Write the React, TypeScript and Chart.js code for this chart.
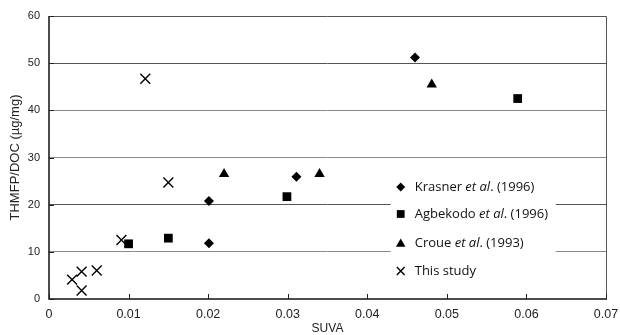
import React, { useEffect, useRef } from 'react';
import { Chart, registerables } from 'chart.js';
Chart.register(...registerables);

const krasnerX = [0.0201, 0.0201, 0.0311, 0.046];
const krasnerY = [20.8, 11.8, 25.9, 51.2];
const agbekodoX = [0.01, 0.015, 0.0299, 0.0589];
const agbekodoY = [11.7, 12.9, 21.7, 42.5];
const croueX = [0.022, 0.034, 0.0481];
const croueY = [26.5, 26.5, 45.5];
const studyX = [0.0029, 0.0041, 0.0041, 0.006, 0.0091, 0.0121, 0.015];
const studyY = [4.1, 5.8, 1.8, 6.05, 12.5, 46.7, 24.7];

const xTicks = [0, 0.01, 0.02, 0.03, 0.04, 0.05, 0.06, 0.07];
const yTicks = [0, 10, 20, 30, 40, 50, 60];

const legendNames = ['Krasner ', 'Agbekodo ', 'Croue ', 'This study'];
const legendItalic = ['et al', 'et al', 'et al', ''];
const legendYears = ['. (1996)', '. (1996)', '. (1993)', ''];
const pointStyles = ['rectRot', 'rect', 'triangle', 'crossRot'];
const pointRadii = [5, 6.2, 6, 7];

const toPts = (xs: number[], ys: number[]) => xs.map((x, i) => ({ x, y: ys[i] }));

const TICK_FONT = '"Liberation Sans", Arial, sans-serif';
const TEXT_FONT = '"Open Sans", "Noto Sans", sans-serif';

const framePlugin = {
  id: 'frame',
  afterDatasetsDraw(chart: any) {
    const { ctx, chartArea: a, scales } = chart;
    ctx.save();
    ctx.strokeStyle = '#555';
    ctx.lineWidth = 1;
    ctx.beginPath();
    ctx.moveTo(a.left, a.top + 0.5);
    ctx.lineTo(a.right + 0.5, a.top + 0.5);
    ctx.lineTo(a.right + 0.5, a.bottom);
    ctx.stroke();
    ctx.strokeStyle = '#111';
    ctx.lineWidth = 1.5;
    ctx.beginPath();
    ctx.moveTo(a.left, a.top);
    ctx.lineTo(a.left, a.bottom);
    ctx.lineTo(a.right + 1, a.bottom);
    ctx.stroke();
    ctx.lineWidth = 1;
    ctx.strokeStyle = '#222';
    ctx.beginPath();
    xTicks.forEach((v) => {
      const px = Math.round(scales.x.getPixelForValue(v)) + 0.5;
      ctx.moveTo(px, a.bottom);
      ctx.lineTo(px, a.bottom - 5);
    });
    yTicks.forEach((v) => {
      const py = Math.round(scales.y.getPixelForValue(v)) + 0.5;
      ctx.moveTo(a.left, py);
      ctx.lineTo(a.left + 5, py);
    });
    ctx.stroke();
    ctx.restore();
  },
  afterDraw(chart: any) {
    const { ctx, chartArea: a } = chart;
    const bx = a.left + (a.right - a.left) * 0.6135;
    const bw = 165;
    const by = 173;
    const bh = 114;
    ctx.save();
    ctx.fillStyle = '#fff';
    ctx.fillRect(bx, by, bw, bh);
    const rows = [187, 214, 243, 271];
    const fs = 13;
    legendNames.forEach((name, i) => {
      const y = rows[i];
      const mx = bx + 10;
      ctx.fillStyle = '#000';
      ctx.strokeStyle = '#000';
      ctx.lineWidth = 1.4;
      const style = pointStyles[i];
      const r = i === 0 ? 4.5 : 5.5;
      ctx.beginPath();
      if (style === 'rectRot') {
        ctx.moveTo(mx - r, y);
        ctx.lineTo(mx, y - r);
        ctx.lineTo(mx + r, y);
        ctx.lineTo(mx, y + r);
        ctx.closePath();
        ctx.fill();
      } else if (style === 'rect') {
        const s = r * Math.SQRT1_2;
        ctx.rect(mx - s, y - s, 2 * s, 2 * s);
        ctx.fill();
      } else if (style === 'triangle') {
        const h = r * Math.sqrt(3) / 2;
        ctx.moveTo(mx, y - r + 1);
        ctx.lineTo(mx + h, y + r / 2 + 1);
        ctx.lineTo(mx - h, y + r / 2 + 1);
        ctx.closePath();
        ctx.fill();
      } else {
        const o = r * Math.SQRT1_2;
        ctx.moveTo(mx - o, y - o);
        ctx.lineTo(mx + o, y + o);
        ctx.moveTo(mx - o, y + o);
        ctx.lineTo(mx + o, y - o);
        ctx.stroke();
      }
      ctx.fillStyle = '#111';
      ctx.textBaseline = 'middle';
      ctx.textAlign = 'left';
      let tx = bx + 24;
      ctx.font = `${fs}px ${TEXT_FONT}`;
      ctx.fillText(name, tx, y);
      tx += ctx.measureText(name).width;
      if (legendItalic[i]) {
        ctx.font = `italic ${fs}px ${TEXT_FONT}`;
        ctx.fillText(legendItalic[i], tx, y);
        tx += ctx.measureText(legendItalic[i]).width;
        ctx.font = `${fs}px ${TEXT_FONT}`;
        ctx.fillText(legendYears[i], tx, y);
      }
    });
    ctx.restore();
  },
};

const zeroPad = (s: any) => {
  s.paddingLeft = 0;
  s.paddingRight = 0;
  s.paddingTop = 0;
  s.paddingBottom = 0;
};

export default function App() {
  const ref = useRef<HTMLCanvasElement | null>(null);
  useEffect(() => {
    if (!ref.current) return;
    const mk = (xs: number[], ys: number[], i: number) => ({
      label: legendNames[i],
      data: toPts(xs, ys),
      pointStyle: pointStyles[i],
      pointRadius: pointRadii[i],
      pointBackgroundColor: '#000',
      pointBorderColor: '#000',
      pointBorderWidth: i === 3 ? 1.4 : 0,
      showLine: false,
    });
    const chart = new Chart(ref.current, {
      type: 'scatter',
      data: {
        datasets: [
          mk(krasnerX, krasnerY, 0),
          mk(agbekodoX, agbekodoY, 1),
          mk(croueX, croueY, 2),
          mk(studyX, studyY, 3),
        ],
      },
      options: {
        animation: false,
        responsive: false,
        devicePixelRatio: 1,
        layout: { autoPadding: false, padding: { top: 16, right: 14, left: 0, bottom: 0 } },
        plugins: { legend: { display: false }, tooltip: { enabled: false } },
        scales: {
          x: {
            type: 'linear',
            min: 0,
            max: 0.07,
            afterFit: (s: any) => { s.height = 36; zeroPad(s); },
            afterBuildTicks: (s: any) => { s.ticks = xTicks.map((v) => ({ value: v })); },
            grid: { display: false, drawTicks: false },
            border: { display: false },
            ticks: {
              padding: 8,
              color: '#222',
              font: { family: TICK_FONT, size: 12.5 },
              maxRotation: 0,
              callback: (v: any) => (v === 0 ? '0' : Number(v).toFixed(2)),
            },
            title: {
              display: true,
              text: 'SUVA',
              color: '#222',
              font: { family: TICK_FONT, size: 12, lineHeight: 1 },
              padding: { top: 0, bottom: 0 },
            },
          },
          y: {
            type: 'linear',
            min: 0,
            max: 60,
            afterFit: (s: any) => { s.width = 49; zeroPad(s); },
            afterBuildTicks: (s: any) => { s.ticks = yTicks.map((v) => ({ value: v })); },
            grid: {
              drawTicks: false,
              color: (c: any) => (c.tick && (c.tick.value === 0 || c.tick.value === 60) ? 'rgba(0,0,0,0)' : (c.tick && (c.tick.value === 50 || c.tick.value === 20) ? '#555' : '#8a8a8a')),
              lineWidth: 1,
            },
            border: { display: false },
            ticks: {
              padding: 9,
              color: '#222',
              font: { family: TICK_FONT, size: 11 },
            },
            title: {
              display: true,
              text: 'THMFP/DOC (µg/mg)',
              color: '#222',
              font: { family: TICK_FONT, size: 13 },
              padding: { top: 8, bottom: 0 },
            },
          },
        },
      },
      plugins: [framePlugin],
    } as any);
    return () => chart.destroy();
  }, []);
  return (
    <div style={{ position: 'absolute', left: 0, top: 0, width: 620, height: 335, background: '#fff' }}>
      <canvas ref={ref} width={620} height={335} style={{ display: 'block', width: 620, height: 335 }} />
    </div>
  );
}
